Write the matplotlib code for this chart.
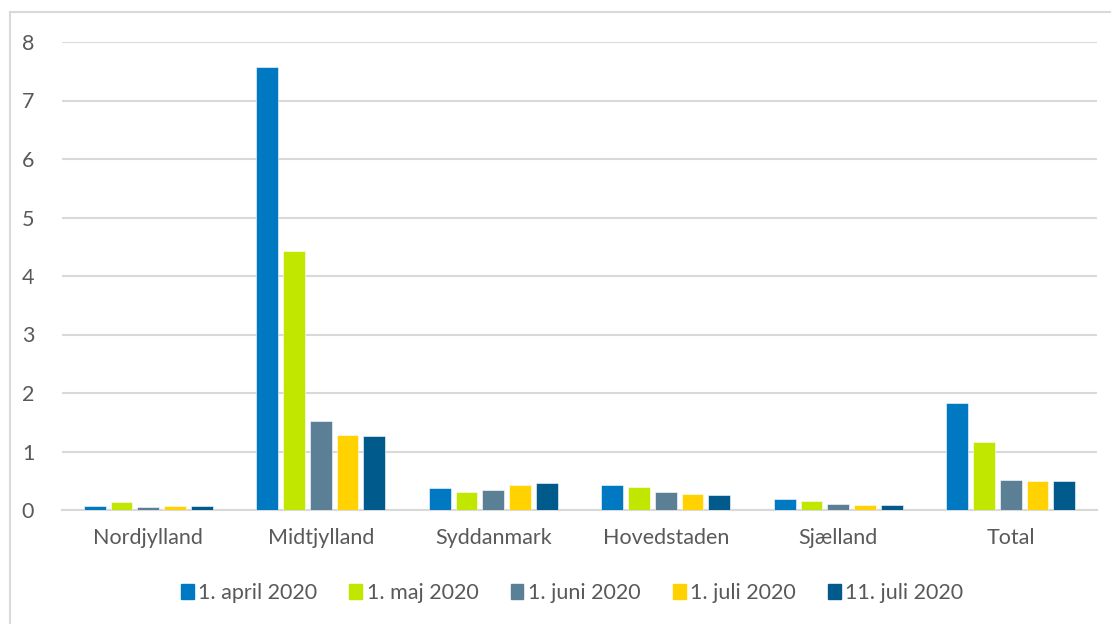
import numpy as np
import matplotlib
matplotlib.use("Agg")
import matplotlib.pyplot as plt
from matplotlib.patches import Rectangle
from matplotlib.lines import Line2D

plt.rcParams["font.family"] = ["Lato", "DejaVu Sans"]

# ── Data ───────────────────────────────────────────────────────────────────────
regions = ["Nordjylland", "Midtjylland", "Syddanmark", "Hovedstaden", "Sjælland", "Total"]
series_names = ["1. april 2020", "1. maj 2020", "1. juni 2020", "1. juli 2020", "11. juli 2020"]
april1 = [0.07, 7.57, 0.38, 0.43, 0.18, 1.83]
maj1   = [0.13, 4.43, 0.30, 0.40, 0.15, 1.16]
juni1  = [0.05, 1.52, 0.34, 0.31, 0.10, 0.52]
juli1  = [0.07, 1.29, 0.42, 0.27, 0.09, 0.49]
juli11 = [0.07, 1.27, 0.47, 0.26, 0.09, 0.49]
y_ticks = [0, 1, 2, 3, 4, 5, 6, 7, 8]

COLORS = ["#0079C2", "#C1E600", "#5B7F95", "#FFD200", "#005A8C"]
TEXT = "#595959"
GRID = "#D9D9D9"

fig = plt.figure(figsize=(11.11, 6.24), dpi=100)
ax = fig.add_axes([62 / 1111, 1 - 510 / 624, 1035 / 1111, 468 / 624])

x = np.arange(len(regions))
width = 0.126
step = 0.155
for i, (name, vals) in enumerate(zip(series_names, [april1, maj1, juni1, juli1, juli11])):
    ax.bar(x + (i - 2) * step, vals, width, color=COLORS[i], label=name,
           edgecolor="white", linewidth=0.4, zorder=3)

ax.set_xlim(-0.5, len(regions) - 0.5)
ax.set_ylim(0, 8)
ax.set_yticks(y_ticks)
ax.yaxis.grid(True, color=GRID, linewidth=1.5, zorder=0)
ax.set_xticks(x)
ax.set_xticklabels(regions)
ax.tick_params(axis="both", length=0, labelsize=15.5, colors=TEXT)
ax.tick_params(axis="x", pad=13)
ax.tick_params(axis="y", pad=20)
for s in ["top", "right", "left"]:
    ax.spines[s].set_visible(False)
ax.spines["bottom"].set_color(GRID)
ax.spines["bottom"].set_linewidth(1.5)

# outer chart frame (top and left edges visible)
fig.add_artist(Line2D([10 / 1111, 1], [1 - 12 / 624] * 2, color=GRID, linewidth=1.5,
                      transform=fig.transFigure))
fig.add_artist(Line2D([10 / 1111] * 2, [0, 1 - 12 / 624], color=GRID, linewidth=1.5,
                      transform=fig.transFigure))

handles = [Rectangle((0, 0), 1, 1, color=c) for c in COLORS]
fig.legend(handles, series_names, loc="center", bbox_to_anchor=(572 / 1111, 1 - 593 / 624),
           ncol=5, frameon=False, fontsize=15.5, labelcolor=TEXT,
           handlelength=0.6, handleheight=0.75, handletextpad=0.2, columnspacing=1.5)

fig.savefig("out.png", dpi=100, facecolor="white")
